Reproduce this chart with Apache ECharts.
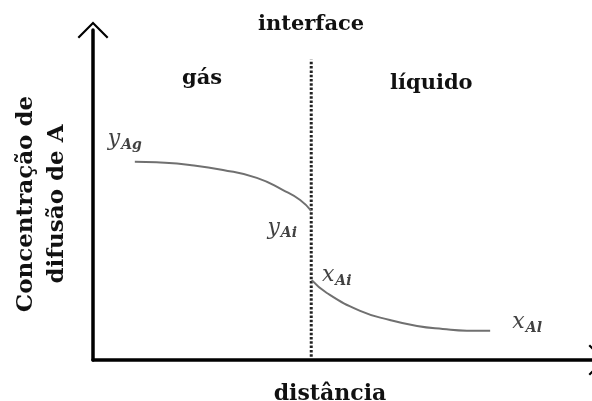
<!DOCTYPE html>
<html>
<head>
<meta charset="utf-8">
<script src="https://cdn.jsdelivr.net/npm/echarts@6/dist/echarts.min.js"></script>
<style>
  html, body { margin: 0; padding: 0; background: #ffffff; }
  #chart { width: 592px; height: 401px; }
</style>
</head>
<body>
<div id="chart"></div>
<script>
// Concentration profile of A across a gas/liquid interface (two-film picture)
const distGas = [8.3, 12.6, 19.2, 25.8, 32.5, 37.7, 41.1, 43.3];
const concGas = [60.1, 59.9, 59.1, 57.6, 55.2, 51.5, 48.5, 45.2];
const distLiq = [43.4, 46.4, 53.0, 58.9, 64.3, 69.4, 74.2, 78.8];
const concLiq = [24.2, 20.3, 14.9, 12.1, 10.3, 9.4, 8.9, 8.9];

const interfaceX = 43.3;
const interfaceSpan = [1, 91];

const xTitle = 'distância';
const yTitle = 'Concentração de\ndifusão de A';
const phaseLabels = ['gás', 'líquido'];
const interfaceLabel = 'interface';

// point labels: main letter + subscript
const pointNames = [
  ['y', 'Ag'],
  ['y', 'Ai'],
  ['x', 'Ai'],
  ['x', 'Al']
];

const serif = '"DejaVu Serif", "Liberation Serif", serif';
const openArrow = 'path://M15 0 L30 15 L28.5 16.5 L15 3 L1.5 16.5 L0 15 Z';

const zip = (xs, ys) => xs.map((x, i) => [x, ys[i]]);

const anchors = [
  { value: [distGas[0], concGas[0]], offset: [-10, -22] },
  { value: [distGas[distGas.length - 1], concGas[concGas.length - 1]], offset: [-29, 17] },
  { value: [distLiq[0], concLiq[0]], offset: [25, -5] },
  { value: [distLiq[distLiq.length - 1], concLiq[concLiq.length - 1]], offset: [37, -8] }
].map((a, i) => ({
  value: a.value,
  label: {
    show: true,
    position: 'inside',
    offset: a.offset,
    formatter: '{v|' + pointNames[i][0] + '}{s|' + pointNames[i][1] + '}'
  }
}));

const chart = echarts.init(document.getElementById('chart'), null, { renderer: 'canvas' });

chart.setOption({
  backgroundColor: '#ffffff',
  animation: false,
  grid: { left: 93, top: 30, right: -5, bottom: 41, containLabel: false, outerBoundsMode: 'none' },
  xAxis: {
    type: 'value', min: 0, max: 100,
    name: xTitle,
    nameLocation: 'middle',
    nameGap: 23,
    nameTextStyle: { fontFamily: serif, fontWeight: 'bold', fontSize: 22, color: '#111', padding: [0, 30, 0, 0] },
    axisLine: {
      show: true,
      symbol: ['none', openArrow],
      symbolSize: [32, 17],
      lineStyle: { color: '#000', width: 3.5 }
    },
    axisTick: { show: false },
    axisLabel: { show: false },
    splitLine: { show: false }
  },
  yAxis: {
    type: 'value', min: 0, max: 100,
    name: yTitle,
    nameLocation: 'middle',
    nameRotate: 90,
    nameGap: 20,
    nameTextStyle: { fontFamily: serif, fontWeight: 'bold', fontSize: 23, color: '#111', lineHeight: 31, align: 'center', padding: [0, 18, 0, 0] },
    axisLine: {
      show: true,
      onZero: false,
      symbol: ['none', openArrow],
      symbolSize: [31, 17],
      lineStyle: { color: '#000', width: 3.5 }
    },
    axisTick: { show: false },
    axisLabel: { show: false },
    splitLine: { show: false }
  },
  graphic: [
    { type: 'text', left: 258, top: 14, style: { text: interfaceLabel, font: 'bold 21px ' + serif, fill: '#111' } },
    { type: 'text', left: 182, top: 68, style: { text: phaseLabels[0], font: 'bold 21px ' + serif, fill: '#111' } },
    { type: 'text', left: 390, top: 73, style: { text: phaseLabels[1], font: 'bold 21px ' + serif, fill: '#111' } }
  ],
  series: [
    {
      name: 'gás',
      type: 'line',
      smooth: 0.5,
      showSymbol: false,
      data: zip(distGas, concGas),
      lineStyle: { color: '#707070', width: 2 },
      z: 3
    },
    {
      name: 'líquido',
      type: 'line',
      smooth: 0.5,
      showSymbol: false,
      data: zip(distLiq, concLiq),
      lineStyle: { color: '#707070', width: 2 },
      z: 3
    },
    {
      name: 'interface',
      type: 'line',
      showSymbol: false,
      data: [[interfaceX, interfaceSpan[0]], [interfaceX, interfaceSpan[1]]],
      lineStyle: { color: '#222', width: 3, type: [2.5, 1.8] },
      z: 2
    },
    {
      name: 'rótulos',
      type: 'scatter',
      symbolSize: 0,
      silent: true,
      data: anchors,
      label: {
        color: '#111',
        rich: {
          v: { fontFamily: serif, fontStyle: 'italic', fontSize: 22, color: '#111' },
          s: { fontFamily: serif, fontStyle: 'italic', fontWeight: 'bold', fontSize: 14, color: '#111', padding: [12, 0, 0, 1] }
        }
      },
      z: 4
    }
  ]
});
</script>
</body>
</html>
